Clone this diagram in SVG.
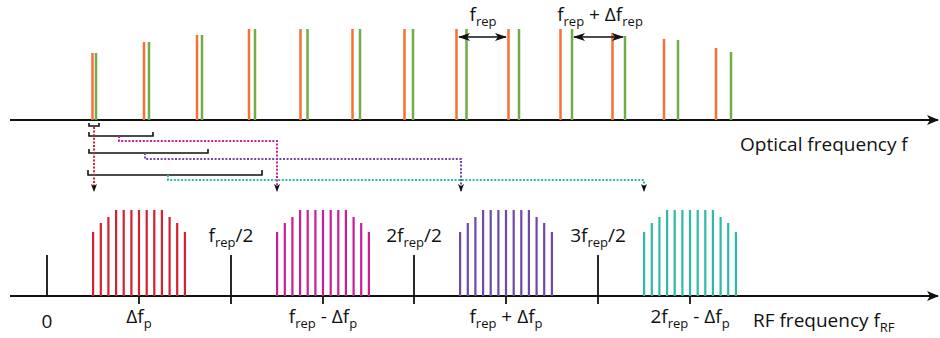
<svg xmlns="http://www.w3.org/2000/svg" width="940" height="338" viewBox="0 0 940 338">
<defs>
<style>
text{font-family:"Open Sans","Noto Sans","DejaVu Sans",sans-serif;fill:#111;font-size:19px}
.sub{font-size:13px}
.ax{stroke:#111;stroke-width:2;fill:none}
.or{stroke:#f47236;stroke-width:2.5}
.gr{stroke:#70ad47;stroke-width:2.5}
.br{stroke:#111;stroke-width:1.6;fill:none}
.dot{stroke-width:2;stroke-dasharray:2 1.6;fill:none}
.red{stroke:#d0222f}
.mag{stroke:#c81e96}
.pur{stroke:#7048a6}
.tea{stroke:#2ebaa8}
.bund{stroke-width:2.2;fill:none}
.tick{stroke:#111;stroke-width:1.8}
.dbl{stroke:#111;stroke-width:1.6;marker-start:url(#ah);marker-end:url(#ah)}
</style>
<marker id="big" viewBox="0 0 12 10" refX="11" refY="5" markerWidth="12" markerHeight="10" markerUnits="userSpaceOnUse" orient="auto"><path d="M0 0L12 5L0 10L3 5Z" fill="#111"/></marker>
<marker id="ah" viewBox="0 0 12 8" refX="11" refY="4" markerWidth="12" markerHeight="8" markerUnits="userSpaceOnUse" orient="auto-start-reverse"><path d="M0 0L12 4L0 8L3 4Z" fill="#111"/></marker>
<marker id="sm" viewBox="0 0 6 8" refX="3" refY="7" markerWidth="6" markerHeight="8" markerUnits="userSpaceOnUse" orient="0"><path d="M0 0L3 8L6 0L3 2Z" fill="#111"/></marker>
</defs>

<g id="optical-axis">
<line class="ax" x1="10" y1="120" x2="938" y2="120" marker-end="url(#big)"/>
<text x="740" y="151">Optical frequency f</text>
</g>

<g id="comb-orange">
<path class="or" d="M92.5 120V53M144 120V42M197 120V35M249 120V29M300.5 120V29M352.5 120V29M404.5 120V29M456.5 120V29M508.5 120V29M560.5 120V29M612.5 120V33M664 120V39M716 120V48"/>
</g>
<g id="comb-green">
<path class="gr" d="M96 120V53M149 120V42M202 120V35M255 120V29M307.5 120V29M360 120V29M413 120V29M466.5 120V29M519 120V29M572 120V29M625 120V36M678 120V40M731 120V52"/>
</g>

<g id="frep-label">
<line class="dbl" x1="459" y1="37" x2="506" y2="37"/>
<text x="483" y="21" text-anchor="middle">f<tspan class="sub" dy="5">rep</tspan></text>
</g>
<g id="frep-dfrep-label">
<line class="dbl" x1="574" y1="37" x2="623" y2="37"/>
<text x="600" y="21" text-anchor="middle">f<tspan class="sub" dy="5">rep</tspan><tspan dy="-5"> + Δf</tspan><tspan class="sub" dy="5">rep</tspan></text>
</g>

<g id="brackets">
<path class="br" d="M89 123V126H99V123"/>
<path class="br" d="M89 132V136H153V132"/>
<path class="br" d="M89 149V153H208V149"/>
<path class="br" d="M88 170V175H262V170"/>
</g>

<g id="connectors">
<path class="dot red" d="M94 127V191" marker-end="url(#sm)"/>
<path class="dot mag" d="M119 136V141H277V191" marker-end="url(#sm)"/>
<path class="dot pur" d="M145 153V159H461V191" marker-end="url(#sm)"/>
<path class="dot tea" d="M168 175V180H644V191" marker-end="url(#sm)"/>
</g>

<g id="rf-axis">
<line class="ax" x1="10" y1="296" x2="938" y2="296" marker-end="url(#big)"/>
<line class="tick" x1="47" y1="255" x2="47" y2="296"/>
<line class="tick" x1="231" y1="255" x2="231" y2="304"/>
<line class="tick" x1="414" y1="255" x2="414" y2="304"/>
<line class="tick" x1="598" y1="255" x2="598" y2="304"/>
<line class="tick" x1="139" y1="296" x2="139" y2="304"/>
<line class="tick" x1="323" y1="296" x2="323" y2="304"/>
<line class="tick" x1="506" y1="296" x2="506" y2="304"/>
<line class="tick" x1="690" y1="296" x2="690" y2="304"/>
<text x="47" y="328" text-anchor="middle">0</text>
<text x="231" y="242" text-anchor="middle">f<tspan class="sub" dy="5">rep</tspan><tspan dy="-5">/2</tspan></text>
<text x="414" y="242" text-anchor="middle">2f<tspan class="sub" dy="5">rep</tspan><tspan dy="-5">/2</tspan></text>
<text x="598" y="242" text-anchor="middle">3f<tspan class="sub" dy="5">rep</tspan><tspan dy="-5">/2</tspan></text>
<text x="753" y="327">RF frequency f<tspan class="sub" dy="5">RF</tspan></text>
</g>

<g id="bundle-red">
<path class="bund red" d="M93.1 296V232M100.8 296V223M108.4 296V217M116.1 296V210M123.7 296V210M131.4 296V210M139 296V210M146.7 296V210M154.3 296V210M161.9 296V210M169.6 296V217M177.2 296V223M184.9 296V232"/>
<text x="139" y="323" text-anchor="middle">Δf<tspan class="sub" dy="5">p</tspan></text>
</g>
<g id="bundle-magenta">
<path class="bund mag" d="M277.1 296V232M284.8 296V223M292.4 296V217M300.1 296V210M307.7 296V210M315.4 296V210M323 296V210M330.7 296V210M338.3 296V210M345.9 296V210M353.6 296V217M361.2 296V223M368.9 296V232"/>
<text x="323" y="323" text-anchor="middle">f<tspan class="sub" dy="5">rep</tspan><tspan dy="-5"> - Δf</tspan><tspan class="sub" dy="5">p</tspan></text>
</g>
<g id="bundle-purple">
<path class="bund pur" d="M460.1 296V232M467.8 296V223M475.4 296V217M483.1 296V210M490.7 296V210M498.4 296V210M506 296V210M513.7 296V210M521.3 296V210M528.9 296V210M536.6 296V217M544.2 296V223M551.9 296V232"/>
<text x="506" y="323" text-anchor="middle">f<tspan class="sub" dy="5">rep</tspan><tspan dy="-5"> + Δf</tspan><tspan class="sub" dy="5">p</tspan></text>
</g>
<g id="bundle-teal">
<path class="bund tea" d="M644.1 296V232M651.8 296V223M659.4 296V217M667.1 296V210M674.7 296V210M682.4 296V210M690 296V210M697.7 296V210M705.3 296V210M712.9 296V210M720.6 296V217M728.2 296V223M735.9 296V232"/>
<text x="690" y="323" text-anchor="middle">2f<tspan class="sub" dy="5">rep</tspan><tspan dy="-5"> - Δf</tspan><tspan class="sub" dy="5">p</tspan></text>
</g>
</svg>
